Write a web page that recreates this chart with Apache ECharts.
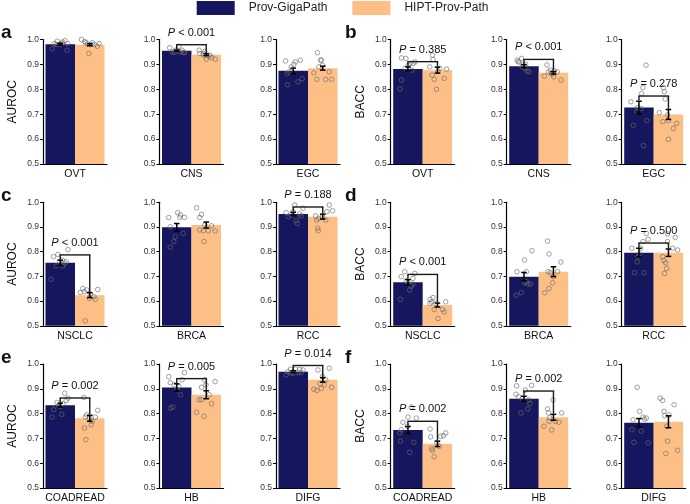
<!DOCTYPE html>
<html><head><meta charset="utf-8">
<script src="https://cdn.jsdelivr.net/npm/echarts@6/dist/echarts.min.js"></script>
<style>html,body{margin:0;padding:0;background:#fff}#c{width:690px;height:504px}</style>
</head><body><div id="c"></div>
<script>
// ---------------- DATA ----------------
const SERIES_NAMES = ['Prov-GigaPath', 'HIPT-Prov-Path'];
const Y_TICKS = [0.5, 0.6, 0.7, 0.8, 0.9, 1.0];

// panel a (AUROC)
const a_cats = ['OVT', 'CNS', 'EGC'];
const a_gigaMean = [0.981, 0.955, 0.874];
const a_hiptMean = [0.979, 0.939, 0.885];
const a_gigaSem = [0.004, 0.003, 0.011];
const a_hiptSem = [0.004, 0.004, 0.008];
const a_p = ['', '< 0.001', ''];
const a_gigaPts = [
  [0.963,0.984,0.993,0.98,0.984,0.995,0.984,0.957,0.98,0.99],
  [0.967,0.948,0.973,0.95,0.948,0.948,0.955,0.95,0.957,0.957],
  [0.914,0.864,0.818,0.89,0.9,0.91,0.83,0.917,0.842,0.87]];
const a_gigaJit = [
  [-0.27,-0.2,-0.1,-0.01,0.07,0.16,0.25,0.23,-0.13,0.08],
  [-0.24,-0.08,0.07,0.13,0.22,0.27,0.01,-0.16,-0.05,0.18],
  [-0.26,-0.2,-0.2,-0.07,0.02,0.07,0.16,0.24,0.3,-0.13]];
const a_hiptPts = [
  [1.0,0.992,0.983,0.944,0.98,0.98,0.973,0.984,0.987,0.987],
  [0.957,0.944,0.937,0.921,0.933,0.928,0.921,0.944,0.952,0.937],
  [0.947,0.917,0.896,0.917,0.84,0.866,0.84,0.87,0.84,0.89]];
const a_hiptJit = [
  [-0.28,-0.17,-0.08,-0.03,0.03,0.15,0.25,0.32,-0.14,0.09],
  [-0.24,-0.22,-0.1,0.01,0.07,0.18,0.3,-0.1,-0.05,0.13],
  [-0.18,-0.07,-0.01,-0.05,-0.2,-0.3,0.1,0.22,0.3,-0.13]];

// panel b (BACC)
const b_cats = ['OVT', 'CNS', 'EGC'];
const b_gigaMean = [0.882, 0.893, 0.727];
const b_hiptMean = [0.877, 0.866, 0.699];
const b_gigaSem = [0.008, 0.006, 0.025];
const b_hiptSem = [0.012, 0.005, 0.02];
const b_p = ['= 0.385', '< 0.001', '= 0.278'];
const b_gigaPts = [
  [0.926,0.924,0.837,0.802,0.904,0.877,0.904,0.91,0.897,0.884],
  [0.917,0.909,0.924,0.884,0.873,0.87,0.89,0.901,0.912,0.9],
  [0.897,0.807,0.783,0.75,0.656,0.71,0.726,0.723,0.574,0.674]];
const b_gigaJit = [
  [-0.22,-0.07,-0.22,-0.27,0.07,0.13,0.18,0.24,0.01,-0.1],
  [-0.23,-0.17,-0.08,0.03,0.11,0.17,-0.06,0.06,-0.19,-0.03],
  [0.24,0.13,0.09,-0.27,-0.19,-0.07,-0.05,0.07,0.15,0.27]];
const b_hiptPts = [
  [0.89,0.937,0.92,0.857,0.8,0.84,0.844,0.881,0.874,0.884],
  [0.853,0.898,0.87,0.877,0.861,0.85,0.87,0.837,0.866,0.874],
  [0.807,0.79,0.761,0.706,0.67,0.697,0.674,0.643,0.663,0.599]];
const b_hiptJit = [
  [-0.26,-0.17,-0.15,-0.18,-0.03,-0.11,0.23,0.31,0.02,0.08],
  [-0.31,-0.22,-0.17,-0.1,-0.05,0.01,0.13,0.26,-0.08,0.03],
  [-0.17,-0.14,-0.11,-0.31,-0.19,-0.03,0.0,0.17,0.28,0.0]];

// panel c (AUROC)
const c_cats = ['NSCLC', 'BRCA', 'RCC'];
const c_gigaMean = [0.755, 0.899, 0.953];
const c_hiptMean = [0.624, 0.908, 0.942];
const c_gigaSem = [0.011, 0.015, 0.007];
const c_hiptSem = [0.01, 0.012, 0.01];
const c_p = ['< 0.001', '', '= 0.188'];
const c_gigaPts = [
  [0.688,0.78,0.789,0.759,0.766,0.753,0.808,0.742,0.759,0.742],
  [0.938,0.818,0.841,0.861,0.958,0.939,0.874,0.939,0.901,0.949],
  [0.958,0.942,0.949,0.989,0.926,0.915,0.953,0.945,0.976,0.962]];
const c_gigaJit = [
  [-0.31,-0.23,-0.08,-0.02,0.07,0.15,0.26,-0.14,0.2,0.09],
  [-0.27,-0.22,-0.1,-0.05,0.03,0.1,0.22,0.26,-0.22,0.13],
  [-0.24,-0.16,-0.07,0.05,0.1,0.14,0.22,0.27,0.33,-0.01]];
const c_hiptPts = [
  [0.635,0.651,0.638,0.645,0.52,0.611,0.618,0.607,0.647,0.628],
  [0.978,0.939,0.951,0.885,0.841,0.908,0.885,0.905,0.884,0.888],
  [0.945,0.928,0.895,0.885,0.935,0.942,0.928,0.962,0.989,0.966]];
const c_hiptJit = [
  [-0.32,-0.24,-0.18,-0.1,-0.15,-0.01,0.14,0.19,0.27,0.02],
  [-0.33,-0.22,-0.16,-0.1,-0.08,-0.05,0.07,0.18,0.3,-0.22],
  [-0.24,-0.2,-0.17,-0.15,-0.13,-0.01,0.1,0.14,0.22,0.33]];

// panel d (BACC)
const d_cats = ['NSCLC', 'BRCA', 'RCC'];
const d_gigaMean = [0.676, 0.699, 0.796];
const d_hiptMean = [0.584, 0.719, 0.796];
const d_gigaSem = [0.011, 0.017, 0.018];
const d_hiptSem = [0.008, 0.02, 0.015];
const d_p = ['< 0.001', '', '= 0.500'];
const d_gigaPts = [
  [0.607,0.699,0.719,0.682,0.645,0.661,0.669,0.712,0.692,0.674],
  [0.624,0.634,0.719,0.766,0.678,0.669,0.669,0.804,0.719,0.674],
  [0.814,0.715,0.759,0.791,0.814,0.841,0.715,0.874,0.85,0.78]];
const d_gigaJit = [
  [-0.26,-0.23,-0.11,-0.06,0.06,0.11,0.17,0.23,0.17,0.0],
  [-0.26,-0.09,-0.24,0.02,0.08,0.14,0.23,0.27,0.08,0.02],
  [-0.24,-0.15,-0.06,0.02,0.06,0.14,0.17,0.25,0.31,-0.03]];
const d_hiptPts = [
  [0.607,0.597,0.614,0.566,0.591,0.53,0.566,0.556,0.597,0.591],
  [0.634,0.843,0.791,0.651,0.715,0.674,0.699,0.719,0.758,0.719],
  [0.78,0.764,0.712,0.755,0.732,0.841,0.872,0.814,0.858,0.807]];
const d_hiptJit = [
  [-0.25,-0.2,-0.15,-0.11,-0.06,0.02,0.17,0.23,0.28,-0.25],
  [-0.3,-0.2,-0.15,-0.15,-0.11,-0.03,0.0,0.14,0.25,-0.18],
  [-0.2,-0.15,-0.13,-0.09,-0.06,-0.03,-0.03,0.14,0.23,0.31]];

// panel e (AUROC)
const e_cats = ['COADREAD', 'HB', 'DIFG'];
const e_gigaMean = [0.834, 0.905, 0.969];
const e_hiptMean = [0.781, 0.876, 0.936];
const e_gigaSem = [0.008, 0.015, 0.004];
const e_hiptSem = [0.012, 0.016, 0.009];
const e_p = ['= 0.002', '= 0.005', '= 0.014'];
const e_gigaPts = [
  [0.786,0.816,0.845,0.832,0.797,0.84,0.882,0.853,0.862,0.829],
  [0.949,0.925,0.822,0.826,0.916,0.896,0.876,0.936,0.965,0.909],
  [0.956,0.969,0.979,0.963,0.979,0.965,0.979,0.965,0.976,0.965]];
const e_gigaJit = [
  [-0.28,-0.22,-0.11,-0.05,0.05,0.09,0.15,0.2,0.26,0.0],
  [-0.27,-0.22,-0.22,-0.13,-0.08,0.01,0.13,0.18,0.26,0.07],
  [-0.24,-0.18,-0.09,-0.01,0.07,0.16,0.22,0.27,0.33,-0.07]];
const e_hiptPts = [
  [0.865,0.786,0.795,0.742,0.695,0.782,0.755,0.769,0.786,0.813],
  [0.805,0.856,0.856,0.906,0.789,0.936,0.916,0.876,0.84,0.929],
  [0.898,0.893,0.976,0.92,0.902,0.949,0.916,0.936,0.983,0.906]];
const e_hiptJit = [
  [-0.2,-0.15,-0.1,-0.18,-0.13,-0.01,0.05,0.08,0.19,0.27],
  [-0.33,-0.24,-0.16,-0.16,-0.08,-0.05,-0.01,0.1,0.18,0.3],
  [-0.3,-0.2,-0.16,-0.09,-0.05,-0.01,0.05,0.1,0.22,0.3]];

// panel f (BACC)
const f_cats = ['COADREAD', 'HB', 'DIFG'];
const f_gigaMean = [0.734, 0.86, 0.763];
const f_hiptMean = [0.678, 0.785, 0.767];
const f_gigaSem = [0.014, 0.01, 0.017];
const f_hiptSem = [0.011, 0.012, 0.024];
const f_p = ['= 0.002', '= 0.002', ''];
const f_gigaPts = [
  [0.722,0.689,0.765,0.786,0.644,0.826,0.684,0.782,0.735,0.749],
  [0.912,0.878,0.868,0.803,0.86,0.895,0.819,0.855,0.841,0.914],
  [0.735,0.775,0.684,0.906,0.809,0.729,0.786,0.778,0.782,0.682]];
const f_gigaJit = [
  [-0.28,-0.25,-0.17,0.0,0.06,0.11,0.2,0.28,-0.23,-0.02],
  [-0.25,-0.27,-0.18,-0.1,-0.05,0.05,0.13,0.16,0.2,0.26],
  [-0.24,-0.2,-0.17,-0.06,0.02,0.08,0.14,0.19,0.25,0.31]];
const f_hiptPts = [
  [0.738,0.706,0.659,0.652,0.626,0.682,0.668,0.709,0.711,0.722],
  [0.749,0.819,0.803,0.769,0.783,0.734,0.855,0.769,0.765,0.803],
  [0.862,0.853,0.809,0.791,0.749,0.689,0.639,0.795,0.836,0.652]];
const f_hiptJit = [
  [-0.25,-0.23,-0.2,-0.17,-0.11,-0.02,0.06,0.11,0.2,0.28],
  [-0.32,-0.2,-0.17,-0.15,-0.13,-0.06,-0.01,0.06,0.19,0.28],
  [-0.28,-0.2,-0.15,-0.13,-0.06,-0.03,-0.09,0.02,0.19,0.31]];

// ---------------- BUILD ----------------
const PANELS = [
  {letter:'a', metric:'AUROC', cats:a_cats, gm:a_gigaMean, hm:a_hiptMean, gs:a_gigaSem, hs:a_hiptSem, p:a_p, gp:a_gigaPts, gj:a_gigaJit, hp:a_hiptPts, hj:a_hiptJit},
  {letter:'b', metric:'BACC',  cats:b_cats, gm:b_gigaMean, hm:b_hiptMean, gs:b_gigaSem, hs:b_hiptSem, p:b_p, gp:b_gigaPts, gj:b_gigaJit, hp:b_hiptPts, hj:b_hiptJit},
  {letter:'c', metric:'AUROC', cats:c_cats, gm:c_gigaMean, hm:c_hiptMean, gs:c_gigaSem, hs:c_hiptSem, p:c_p, gp:c_gigaPts, gj:c_gigaJit, hp:c_hiptPts, hj:c_hiptJit},
  {letter:'d', metric:'BACC',  cats:d_cats, gm:d_gigaMean, hm:d_hiptMean, gs:d_gigaSem, hs:d_hiptSem, p:d_p, gp:d_gigaPts, gj:d_gigaJit, hp:d_hiptPts, hj:d_hiptJit},
  {letter:'e', metric:'AUROC', cats:e_cats, gm:e_gigaMean, hm:e_hiptMean, gs:e_gigaSem, hs:e_hiptSem, p:e_p, gp:e_gigaPts, gj:e_gigaJit, hp:e_hiptPts, hj:e_hiptJit},
  {letter:'f', metric:'BACC',  cats:f_cats, gm:f_gigaMean, hm:f_hiptMean, gs:f_gigaSem, hs:f_hiptSem, p:f_p, gp:f_gigaPts, gj:f_gigaJit, hp:f_hiptPts, hj:f_hiptJit}
];

const NAVY = '#16165e', ORANGE = '#fdbf86';
const COL_X = [43, 159.5, 276, 390.7, 506.7, 621.7];
const ROW_TOP = [39.5, 202.3, 364];
const ROW_H = [124.5, 123.5, 124.5];
const GRID_W = 64, BAR_W = 29.5;
const HALF = GRID_W / 2 / BAR_W;
const SANS = '"Liberation Sans", Arial, Helvetica, sans-serif';

function makeErr(x, m, s) {
  return function (params, api) {
    const t = api.coord([x, m + s]), b = api.coord([x, m - s]);
    const cw = 2.8, st = {stroke:'#000', lineWidth:1.5};
    return {type:'group', children:[
      {type:'line', shape:{x1:t[0], y1:t[1], x2:b[0], y2:b[1]}, style:st},
      {type:'line', shape:{x1:t[0]-cw, y1:t[1], x2:t[0]+cw, y2:t[1]}, style:st},
      {type:'line', shape:{x1:b[0]-cw, y1:b[1], x2:b[0]+cw, y2:b[1]}, style:st}
    ]};
  };
}
function makeBracket(txt, yb, tg, th) {
  return function (params, api) {
    const L = api.coord([-0.5, yb]), R = api.coord([0.5, yb]);
    const Lb = api.coord([-0.5, tg]), Rb = api.coord([0.5, th]);
    const st = {stroke:'#1a1a1a', lineWidth:1.4};
    return {type:'group', children:[
      {type:'line', shape:{x1:Lb[0], y1:Lb[1], x2:L[0], y2:L[1]}, style:st},
      {type:'line', shape:{x1:L[0]-0.7, y1:L[1], x2:R[0]+0.7, y2:R[1]}, style:st},
      {type:'line', shape:{x1:R[0], y1:R[1], x2:Rb[0], y2:Rb[1]}, style:st},
      {type:'text', x:(L[0]+R[0])/2, y:L[1]-6.5,
       style:{text:'{i|P}{n| ' + txt + '}', align:'center', verticalAlign:'bottom',
         fontSize:11, fontFamily:SANS, fill:'#111',
         rich:{i:{fontStyle:'italic', fontSize:11, fontFamily:SANS, fill:'#111'},
               n:{fontSize:11, fontFamily:SANS, fill:'#111'}}}}
    ]};
  };
}

const grids = [], xAxes = [], yAxes = [], series = [], graphics = [];
let k = 0;
PANELS.forEach((P, pi) => {
  const row = Math.floor(pi / 2), grp = pi % 2;
  graphics.push({type:'text', left: grp ? 345 : 1, top: ROW_TOP[row] - 16,
    style:{text:P.letter, font:'bold 19px ' + SANS, fill:'#111'}});
  for (let j = 0; j < 3; j++) {
    const gi = k;
    grids.push({left: COL_X[grp * 3 + j], top: ROW_TOP[row], width: GRID_W, height: ROW_H[row]});
    xAxes.push({type:'category', gridIndex:gi, data:[P.cats[j]],
      axisTick:{show:false}, axisLine:{onZero:false, lineStyle:{color:'#000', width:1.2}},
      axisLabel:{fontSize:10.5, color:'#111', margin:5, fontFamily:SANS}});
    xAxes.push({type:'value', gridIndex:gi, min:-HALF, max:HALF, show:false});
    yAxes.push({type:'value', gridIndex:gi, min:Y_TICKS[0], max:Y_TICKS[Y_TICKS.length-1], interval:0.1,
      splitLine:{show:false},
      axisLine:{show:true, onZero:false, lineStyle:{color:'#000', width:1.2}},
      axisTick:{show:true, length:3, lineStyle:{color:'#000', width:1}},
      axisLabel:{fontSize:8.5, color:'#333', margin:4, fontFamily:SANS, formatter:v => v.toFixed(1)},
      name: j === 0 ? P.metric : '', nameLocation:'middle', nameGap:24,
      nameTextStyle:{fontSize:12, color:'#111', fontFamily:SANS}});
    series.push({type:'bar', name:SERIES_NAMES[0], xAxisIndex:2*gi, yAxisIndex:gi, data:[P.gm[j]],
      barWidth:BAR_W, barGap:'0%', itemStyle:{color:NAVY}, silent:true, z:2});
    series.push({type:'bar', name:SERIES_NAMES[1], xAxisIndex:2*gi, yAxisIndex:gi, data:[P.hm[j]],
      barWidth:BAR_W, barGap:'0%', itemStyle:{color:ORANGE}, silent:true, z:2});
    const ptStyle = {color:'rgba(0,0,0,0)', borderColor:'#6b6b6b', borderWidth:0.8};
    series.push({type:'scatter', xAxisIndex:2*gi+1, yAxisIndex:gi, symbolSize:4.6, silent:true, z:3,
      itemStyle:ptStyle, data:P.gp[j].map((v, i) => [-0.5 + P.gj[j][i], v])});
    series.push({type:'scatter', xAxisIndex:2*gi+1, yAxisIndex:gi, symbolSize:4.6, silent:true, z:3,
      itemStyle:ptStyle, data:P.hp[j].map((v, i) => [0.5 + P.hj[j][i], v])});
    series.push({type:'custom', xAxisIndex:2*gi+1, yAxisIndex:gi, renderItem:makeErr(-0.5, P.gm[j], P.gs[j]),
      clip:false, silent:true, z:5, data:[[-0.5, P.gm[j]]]});
    series.push({type:'custom', xAxisIndex:2*gi+1, yAxisIndex:gi, renderItem:makeErr(0.5, P.hm[j], P.hs[j]),
      clip:false, silent:true, z:5, data:[[0.5, P.hm[j]]]});
    if (P.p[j]) {
      const tg = P.gm[j] + P.gs[j], th = P.hm[j] + P.hs[j];
      const yb = Math.max(tg, th) + 0.021;
      series.push({type:'custom', xAxisIndex:2*gi+1, yAxisIndex:gi,
        renderItem:makeBracket(P.p[j], yb, tg + 0.003, th + 0.003),
        clip:false, silent:true, z:6, data:[[0, yb]]});
    }
    k++;
  }
});

const chart = echarts.init(document.getElementById('c'), null, {renderer:'canvas'});
chart.setOption({
  animation:false,
  backgroundColor:'#fff',
  legend:{left:196.7, top:1, padding:0, itemWidth:38, itemHeight:14, itemGap:25, icon:'rect',
    data:[{name:SERIES_NAMES[0], itemStyle:{color:NAVY}}, {name:SERIES_NAMES[1], itemStyle:{color:ORANGE}}],
    textStyle:{fontSize:12, color:'#222', fontFamily:SANS, padding:[0,0,0,9]}},
  graphic:graphics,
  grid:grids, xAxis:xAxes, yAxis:yAxes, series:series
});
</script></body></html>
